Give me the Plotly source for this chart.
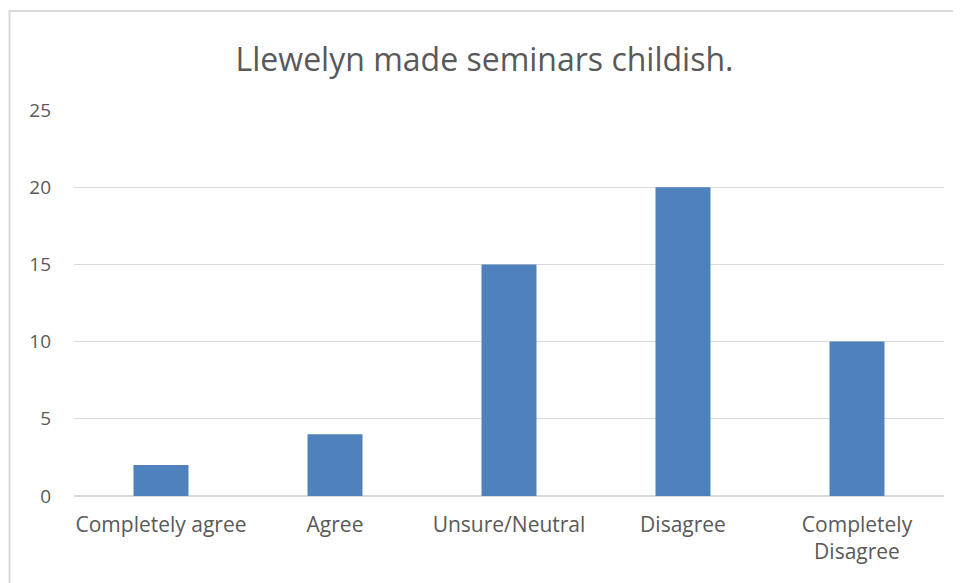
import plotly.graph_objects as go

categories = ["Completely agree", "Agree", "Unsure/Neutral", "Disagree", "Completely<br>Disagree"]
values = [2, 4, 15, 20, 10]
y_ticks = [0, 5, 10, 15, 20, 25]

# page body has an 8px margin; the figure origin sits at (8, 8) in the window
OFF = 8
W, H = 961 - OFF, 583 - OFF
L, R, T, B = 74 - OFF, 17, 110 - OFF, 583 - 496
pw, ph = W - L - R, H - T - B

fig = go.Figure(go.Bar(x=categories, y=values, marker=dict(color="#4F81BD", line=dict(width=0))))

font_family = "'Open Sans', Lato, sans-serif"
fig.update_layout(
    width=W, height=H,
    margin=dict(l=L, r=R, t=T, b=B),
    paper_bgcolor="white", plot_bgcolor="white",
    bargap=0.684,
    showlegend=False,
    title=dict(text="Llewelyn made seminars childish.", x=0.5, xanchor="center",
               y=1 - (60 - OFF) / H, yanchor="middle",
               font=dict(family=font_family, size=32, color="#595959")),
    font=dict(family=font_family, color="#595959"),
    xaxis=dict(showgrid=False, showline=False, ticks="", ticklabelstandoff=14,
               tickfont=dict(size=21, color="#595959")),
    yaxis=dict(range=[0, 25], tickvals=y_ticks, showgrid=True, gridcolor="#D9D9D9", gridwidth=1,
               zeroline=True, zerolinecolor="#D9D9D9", zerolinewidth=1.5, showline=False,
               ticks="", ticklabelstandoff=22, tickfont=dict(size=19, color="#595959")),
)

# chart border
fig.add_shape(type="rect", xref="paper", yref="paper",
              x0=(1.5 - L) / pw, x1=(W + 20 - L) / pw,
              y0=-(H + 20 - (H - B)) / ph, y1=(496 - 11) / ph,
              line=dict(color="#D9D9D9", width=2), fillcolor="rgba(0,0,0,0)", layer="below")

fig.write_html("out.html")
